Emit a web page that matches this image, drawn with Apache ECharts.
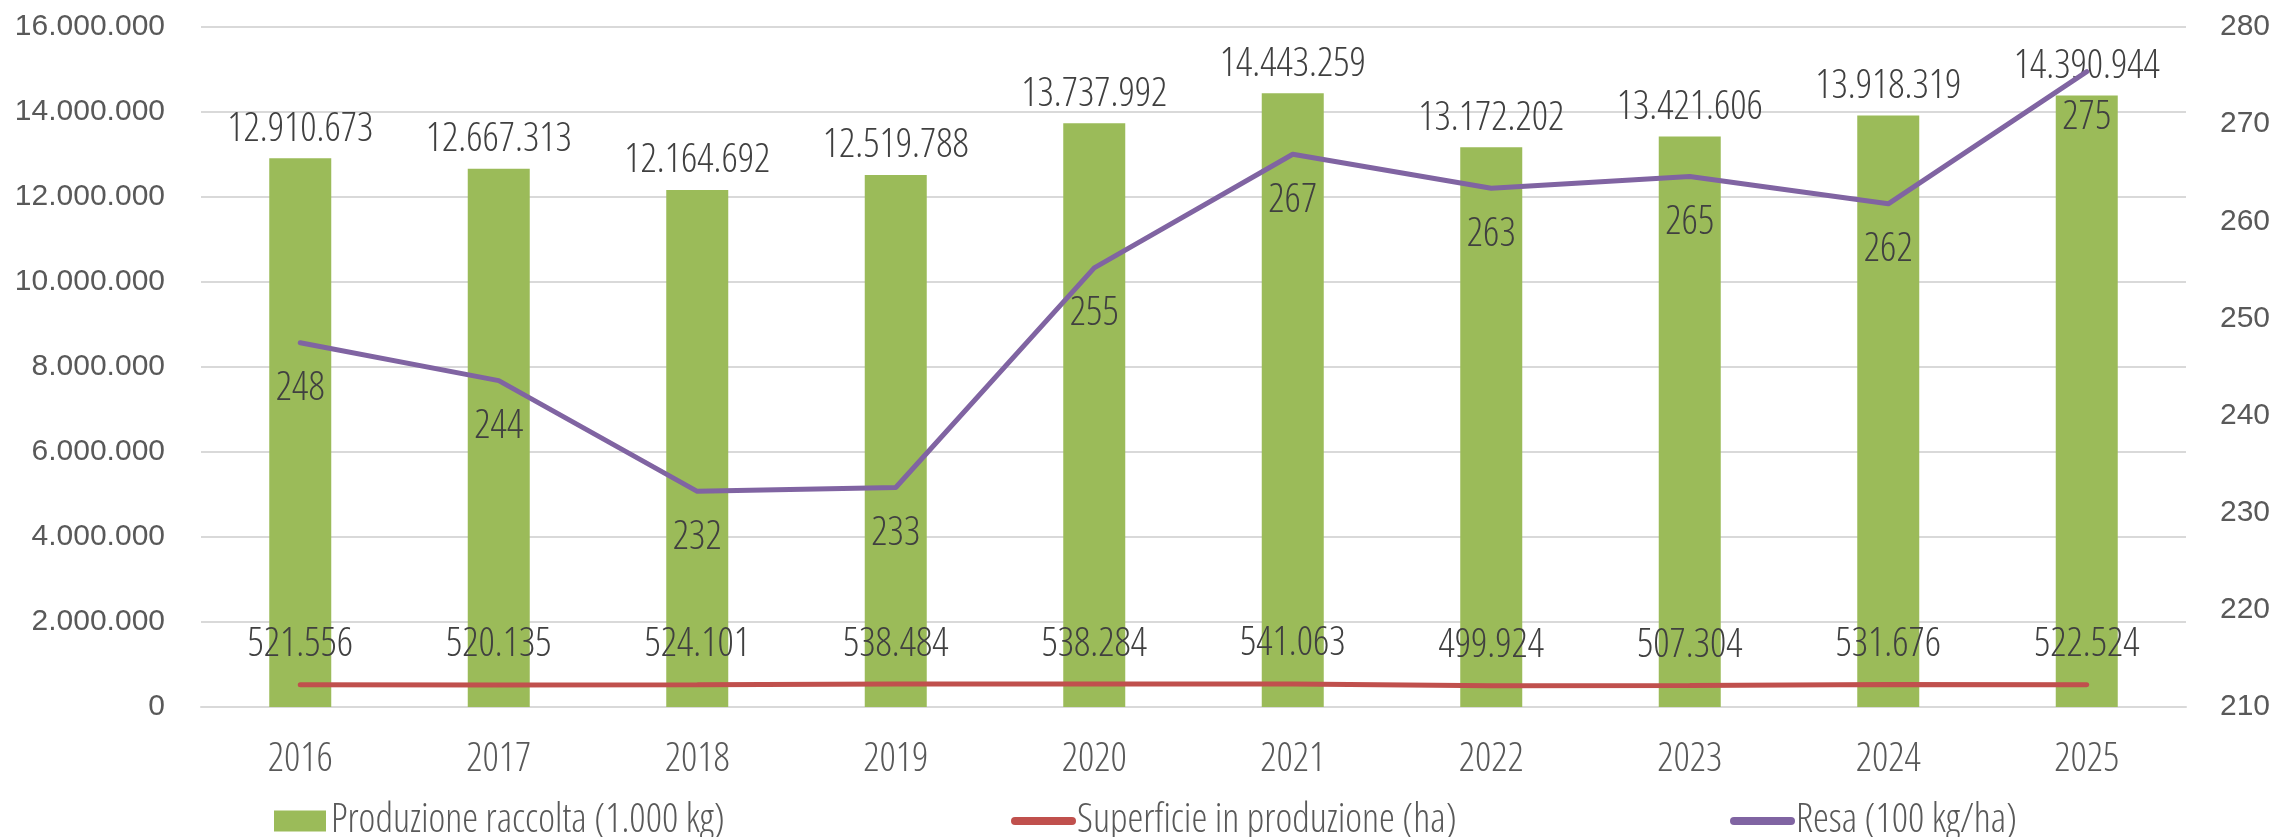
<!DOCTYPE html>
<html>
<head>
<meta charset="utf-8">
<script src="https://cdn.jsdelivr.net/npm/echarts@6/dist/echarts.min.js"></script>
<style>
html,body{margin:0;padding:0;background:#fff;}
#chart{width:2277px;height:837px;}
</style>
</head>
<body>
<div id="chart"></div>
<script>
const categories = ['2016','2017','2018','2019','2020','2021','2022','2023','2024','2025'];
const produzione = [12910673, 12667313, 12164692, 12519788, 13737992, 14443259, 13172202, 13421606, 13918319, 14390944];
const superficie = [521556, 520135, 524101, 538484, 538284, 541063, 499924, 507304, 531676, 522524];
const resa = [247.5, 243.6, 232.2, 232.6, 255.2, 266.9, 263.4, 264.6, 261.8, 275.4];
const seriesNames = ['Produzione raccolta (1.000 kg)', 'Superficie in produzione (ha)', 'Resa (100 kg/ha)'];

const NARROW = "'Open Sans', sans-serif";
const NSIZE = 40;
const REG = "'Liberation Sans', Arial, sans-serif";
const fmt = v => String(Math.round(v)).replace(/\B(?=(\d{3})+(?!\d))/g, '.');
const narrowText = (color) => ({fontFamily: NARROW, fontStyle: 'condensed', fontWeight: 300, fontSize: NSIZE, color: color});

const chart = echarts.init(document.getElementById('chart'));
const legendText = narrowText('#595959');
chart.setOption({
  animation: false,
  backgroundColor: '#fff',
  grid: {left: 201, right: 91, top: 27, bottom: 130, containLabel: false},
  legend: [
    {data: [{name: seriesNames[0], icon: 'rect'}], left: 269, top: 796, itemWidth: 52, itemHeight: 21, itemGap: 6, textStyle: legendText, selectedMode: false},
    {data: [{name: seriesNames[1], itemStyle: {opacity: 0}}], left: 1006, top: 796, itemWidth: 57, itemHeight: 21, itemGap: 4, textStyle: legendText, selectedMode: false, lineStyle: {width: 8, cap: 'round'}},
    {data: [{name: seriesNames[2], itemStyle: {opacity: 0}}], left: 1725, top: 796, itemWidth: 57, itemHeight: 21, itemGap: 4, textStyle: legendText, selectedMode: false, lineStyle: {width: 8, cap: 'round'}}
  ],
  xAxis: {
    type: 'category',
    data: categories,
    axisTick: {show: false},
    axisLine: {lineStyle: {color: '#d9d9d9', width: 2}},
    axisLabel: Object.assign(narrowText('#595959'), {margin: 33})
  },
  yAxis: [
    {
      type: 'value', min: 0, max: 16000000, interval: 2000000,
      axisLine: {show: false}, axisTick: {show: false},
      splitLine: {lineStyle: {color: '#d9d9d9', width: 2}},
      axisLabel: {fontFamily: REG, fontSize: 30, color: '#595959', margin: 36, formatter: fmt}
    },
    {
      type: 'value', min: 210, max: 280, interval: 10, position: 'right',
      axisLine: {show: false}, axisTick: {show: false},
      splitLine: {show: false},
      axisLabel: {fontFamily: REG, fontSize: 30, color: '#595959', margin: 34}
    }
  ],
  series: [
    {
      name: seriesNames[0], type: 'bar', data: produzione, barWidth: 62,
      itemStyle: {color: '#9bbb59'},
      label: Object.assign(narrowText('#404040'), {show: true, position: 'top', distance: 9, formatter: p => fmt(p.value)})
    },
    {
      name: seriesNames[1], type: 'line', data: superficie, yAxisIndex: 0,
      symbol: 'circle', symbolSize: 2, showSymbol: true,
      lineStyle: {color: '#c0504d', width: 5, cap: 'round'},
      itemStyle: {color: '#c0504d'},
      label: Object.assign(narrowText('#404040'), {show: true, position: 'top', distance: 19, formatter: p => fmt(p.value)})
    },
    {
      name: seriesNames[2], type: 'line', data: resa, yAxisIndex: 1,
      symbol: 'circle', symbolSize: 2, showSymbol: true,
      lineStyle: {color: '#8064a2', width: 5, cap: 'round', join: 'round'},
      itemStyle: {color: '#8064a2'},
      label: Object.assign(narrowText('#404040'), {show: true, position: 'bottom', distance: 25, formatter: p => fmt(p.value)})
    }
  ]
});
</script>
</body>
</html>
